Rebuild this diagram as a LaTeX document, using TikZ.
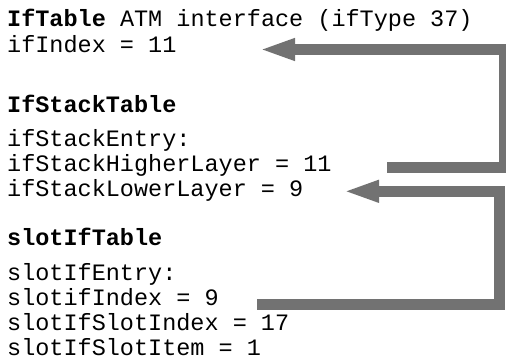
\documentclass[tikz,border=0pt]{standalone}
\usepackage{fontspec}
\setmonofont{Liberation Mono}
\usetikzlibrary{arrows.meta}
\definecolor{arrowgray}{HTML}{727272}
\begin{document}
\begin{tikzpicture}[x=1pt,y=-1pt,
  txt/.style={anchor=base west, inner sep=0pt, font=\fontsize{23.5}{25}\selectfont\ttfamily},
  hd/.style={txt, font=\fontsize{23.5}{25}\selectfont\ttfamily\bfseries},
  conn/.style={draw=arrowgray, line width=10.5pt, line join=miter,
    -{Triangle[length=36pt,width=20pt]}}]
\useasboundingbox (0,0) rectangle (506,364);
\node[txt] (l1) at (7,27) {\textbf{IfTable} ATM interface (ifType 37)};
\node[txt] (l2) at (7,52) {ifIndex = 11};
\node[hd]  (l3) at (7,112) {IfStackTable};
\node[txt] (l4) at (7,146) {ifStackEntry:};
\node[txt] (l5) at (7,171) {ifStackHigherLayer = 11};
\node[txt] (l6) at (7,196) {ifStackLowerLayer = 9};
\node[hd]  (l7) at (7,245) {slotIfTable};
\node[txt] (l8) at (7,280) {slotIfEntry:};
\node[txt] (l9) at (7,305) {slotifIndex = 9};
\node[txt] (l10) at (7,330) {slotIfSlotIndex = 17};
\node[txt] (l11) at (7,355) {slotIfSlotItem = 1};
\coordinate (s1) at (387,167.7);
\coordinate (t1) at (259,49.5);
\coordinate (s2) at (257,304.5);
\coordinate (t2) at (343,191.3);
\draw[conn] (s1) -- (504.5,167.7) |- (t1);
\draw[conn] (s2) -- (499.5,304.5) |- (t2);
\end{tikzpicture}
\end{document}
